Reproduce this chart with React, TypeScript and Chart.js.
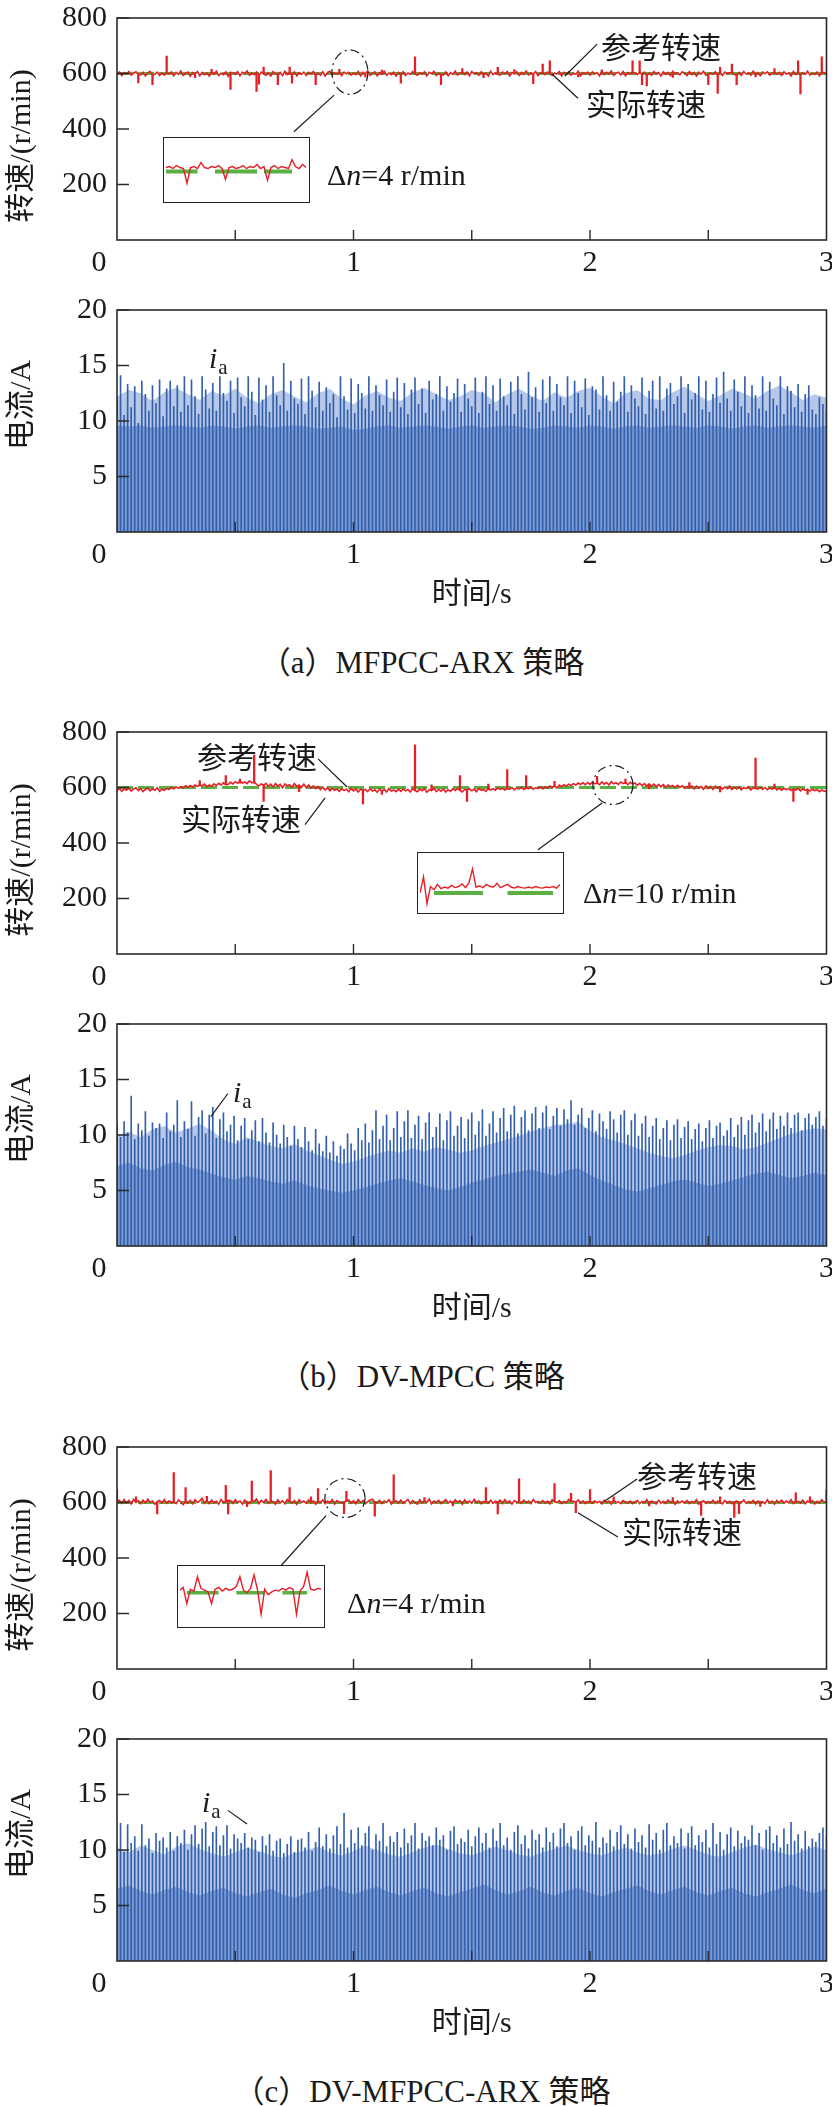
import React, { useEffect, useRef } from "react";
import { Chart, registerables } from "chart.js";
Chart.register(...registerables);

const SERIF = '"Liberation Serif", "Times New Roman", "Noto Sans CJK SC", serif';
const RED = "#e41f26";
const GREEN = "#5bb043";
const BLUE_DARK = "#3360ad";
const BLUE_MID = "#7b9ad3";
const BLUE_LIGHT = "#b6c7e7";
const INK = "#1a1a1a";

// ---------------- data ----------------
const timeLabels = [0, 1, 2, 3];
const minorTimeTicks = [0.5, 1, 1.5, 2, 2.5];
const speedTicks = [200, 400, 600, 800];
const currentTicks = [5, 10, 15, 20];

const speedRef = [600, 600];

// (a) MFPCC-ARX actual speed ripple, 0..3 s, 0.01 s step
const speedA = [
  596,605,592,603,598,607,594,601,606,597,595,604,591,602,608,595,597,605,593,602,
  594,603,599,606,592,604,597,609,593,601,605,590,603,598,607,592,604,596,602,591,
  605,597,608,593,601,596,606,590,604,603,597,607,592,604,599,609,594,602,596,605,
  593,605,598,594,603,591,607,598,596,604,593,608,596,602,594,606,592,603,597,605,
  593,604,598,607,595,601,594,606,591,603,608,595,602,597,603,592,605,599,604,594,
  602,596,607,591,604,599,609,593,601,606,592,603,597,608,594,602,596,605,591,604,
  597,606,593,602,597,607,599,594,603,598,606,591,604,599,608,593,601,596,595,606,
  592,603,597,608,594,601,605,596,605,592,607,599,603,594,606,597,602,591,608,596,
  603,597,594,605,599,607,592,603,598,606,593,604,597,609,595,602,598,607,593,601,
  604,596,605,599,593,602,598,607,591,604,599,606,594,601,597,608,592,603,598,605,
  594,606,599,603,592,607,596,604,598,609,593,601,605,595,607,592,603,598,605,601,
  596,604,597,605,593,602,594,607,598,603,591,606,597,604,593,608,599,602,595,606,
  600,593,607,596,604,591,605,598,608,594,597,602,597,606,593,604,593,605,599,603,
  604,596,595,604,593,607,598,602,594,608,597,603,592,605,599,606,594,601,604,597,
  604,593,606,598,602,591,607,596,602,596,603,597,608,594,601,596,605,592,604,603,
  598,
];
// (a) speed spikes: [time s, from r/min, to r/min]
const spikesA = [
  [0.09,598,566],[0.15,598,560],[0.21,600,663],[0.33,598,585],[0.40,602,615],[0.48,598,543],
  [0.59,598,535],[0.60,598,562],[0.62,600,623],[0.68,598,560],[0.73,600,623],[0.74,598,565],
  [0.84,598,560],[0.94,600,615],[1.05,598,588],[1.12,602,612],[1.20,598,565],[1.26,600,660],
  [1.37,598,560],[1.46,600,618],[1.55,598,585],[1.61,600,622],[1.68,602,614],[1.76,598,563],
  [1.80,600,634],[1.83,600,646],[1.95,598,588],[2.05,602,613],[2.18,600,646],[2.21,600,646],
  [2.22,598,560],[2.24,598,555],[2.35,598,586],[2.50,598,560],[2.54,598,528],[2.55,600,622],
  [2.60,600,634],[2.62,598,560],[2.70,598,588],[2.78,600,618],[2.88,600,646],[2.89,598,526],
  [2.98,600,660],
];

// (b) DV-MPCC actual speed ripple
const speedB = [
  588,597,586,595,590,598,587,594,599,589,596,585,593,598,588,595,590,599,586,594,
  590,597,593,600,595,602,597,604,598,606,601,607,602,609,604,610,606,612,603,609,
  604,613,607,615,609,617,610,611,619,613,621,615,623,616,620,614,624,617,620,611,
  606,613,608,615,604,612,602,614,605,611,599,613,606,610,601,614,604,609,600,612,
  600,609,598,606,596,604,593,601,591,599,588,597,590,595,586,596,589,594,585,597,
  588,595,584,594,590,593,585,596,587,592,583,595,586,593,584,596,587,591,585,594,
  586,595,588,593,584,596,589,585,594,588,596,583,592,589,597,585,593,587,595,584,
  592,586,595,589,597,590,584,593,591,596,588,594,585,597,590,593,586,598,591,596,
  590,599,593,597,591,596,594,600,592,598,595,601,593,598,596,602,594,599,597,603,
  595,603,597,605,600,607,598,609,603,610,605,612,607,614,609,616,611,617,610,618,
  611,619,613,616,610,620,612,618,609,621,613,617,611,620,614,618,610,619,612,616,
  608,615,607,614,605,613,604,612,603,611,602,610,601,609,603,607,600,608,601,606,
  597,604,598,606,595,605,597,603,594,606,596,604,593,605,597,603,594,602,596,605,
  593,601,595,602,592,600,596,603,591,599,597,594,601,593,600,592,599,594,601,591,
  598,590,597,592,596,589,594,591,597,588,595,590,594,587,593,589,592,585,591,587,
  586,
];
const spikesB = [
  [0.35,606,625],[0.46,610,643],[0.52,616,630],[0.58,616,717],[0.62,610,550],[0.77,606,585],
  [1.04,590,541],[1.12,590,575],[1.26,590,754],[1.33,590,610],[1.45,590,643],[1.48,590,550],
  [1.57,592,612],[1.65,596,665],[1.73,598,643],[1.85,602,622],[2.03,614,640],[2.15,614,630],
  [2.25,610,595],[2.42,602,618],[2.55,600,584],[2.70,597,706],[2.78,597,612],[2.86,592,550],
  [2.92,590,575],
];

// (c) DV-MFPCC-ARX actual speed ripple
const speedC = [
  604,608,597,610,599,607,595,611,600,606,596,609,598,612,601,605,594,603,607,598,
  610,597,606,599,603,596,609,601,593,604,598,607,595,610,600,606,615,597,608,596,
  609,598,605,594,611,600,603,608,607,597,610,599,605,594,609,601,596,606,604,612,
  596,608,600,611,597,604,603,594,609,599,606,595,611,603,598,607,593,610,600,605,
  597,609,599,606,594,603,601,610,596,605,599,611,594,607,601,598,602,606,609,597,
  606,595,610,600,607,596,603,609,612,601,598,608,596,605,600,610,594,603,606,598,
  609,597,604,611,596,607,600,594,610,598,606,600,612,595,605,599,608,596,603,610,
  598,605,596,610,601,607,594,609,599,605,597,611,600,606,595,604,602,598,608,597,
  605,601,608,596,610,599,606,594,607,601,603,597,609,599,605,596,611,600,604,598,
  607,598,605,595,610,603,600,607,596,604,599,611,602,605,601,609,598,606,596,603,
  602,597,606,599,604,595,608,600,605,594,609,598,603,596,607,601,598,605,596,602,
  607,596,604,599,610,597,605,600,595,608,598,604,596,609,600,603,594,606,599,605,
  598,607,596,604,599,610,594,602,606,597,603,599,608,596,605,600,595,607,598,604,
  596,602,606,599,601,609,597,604,598,608,595,605,600,603,596,610,598,605,594,607,
  600,608,597,605,599,610,596,602,604,598,609,596,605,600,607,595,604,598,610,601,
  603,
];
const spikesC = [
  [0.00,603,646],[0.08,603,620],[0.17,603,559],[0.24,603,708],[0.29,603,654],[0.38,603,622],
  [0.46,603,662],[0.47,603,559],[0.55,603,585],[0.57,603,677],[0.65,603,715],[0.73,603,654],
  [0.82,603,620],[0.85,603,650],[0.96,603,560],[0.97,603,640],[1.09,603,551],[1.17,603,700],
  [1.30,603,618],[1.42,603,588],[1.56,603,654],[1.61,603,559],[1.70,603,685],[1.85,603,668],
  [1.92,603,633],[1.94,603,563],[2.00,603,647],[2.10,603,620],[2.25,603,588],[2.35,603,618],
  [2.47,603,553],[2.55,603,620],[2.61,603,546],[2.63,603,560],[2.72,603,586],[2.87,603,635],
  [2.93,603,620],[3.00,603,646],
];

// current i_a: dark peaks (0..3 s, 0.015 s step) and filled envelopes (0.05 s step)
const peaksA = [
  12.0,14.1,10.5,13.3,11.2,13.1,9.8,13.6,12.4,10.9,13.2,11.6,13.7,10.4,12.9,13.6,11.3,13.2,10.8,14.0,
  11.4,13.7,12.2,10.6,14.0,12.8,11.1,13.4,10.9,14.0,12.5,11.8,13.6,10.7,13.9,12.1,11.3,14.0,12.6,10.5,
  13.9,11.9,13.2,10.8,14.0,12.3,11.4,15.2,10.9,13.6,12.0,11.5,13.8,10.6,14.0,12.7,11.2,13.5,10.9,13.0,
  11.6,12.4,10.3,14.0,12.2,11.0,13.8,10.7,13.3,12.5,11.1,14.0,10.9,13.2,12.3,11.4,13.7,10.8,12.6,13.9,
  11.2,13.4,10.6,12.8,13.9,11.5,12.9,10.7,13.6,11.9,12.4,14.0,10.9,13.1,11.7,12.5,13.8,10.8,13.3,12.0,
  11.3,13.9,10.7,12.6,14.0,11.5,13.2,10.9,13.8,12.2,11.4,13.5,10.6,14.0,12.4,11.0,14.4,12.1,13.0,10.8,
  13.7,11.6,14.0,10.9,13.3,12.1,11.4,14.0,10.7,13.6,12.5,11.2,13.8,10.5,13.1,12.8,11.0,14.0,12.3,10.9,
  13.5,11.7,12.6,14.0,10.8,13.2,12.0,11.3,13.9,10.6,12.7,13.6,11.1,14.0,10.9,12.9,13.4,11.5,12.2,14.0,
  10.7,13.3,11.9,12.5,14.0,11.0,13.6,10.8,12.4,13.9,11.6,14.4,12.0,10.9,13.7,12.6,11.3,14.0,10.7,13.2,
  12.3,11.1,14.0,10.9,13.5,12.0,11.4,14.0,10.6,13.1,12.7,11.2,13.3,10.8,12.4,13.2,11.0,10.6,12.1,11.5,
  11.0,
];
const envHiA = [
  12.2,12.8,12.5,11.8,12.6,13.0,12.4,11.9,12.7,12.3,12.9,12.1,11.6,12.4,12.8,12.2,11.7,12.5,12.9,12.0,
  11.5,12.3,12.7,12.1,11.8,12.6,13.0,12.4,11.9,12.2,12.8,12.5,11.7,12.4,12.9,12.3,11.8,12.6,12.1,12.7,
  13.0,12.2,11.6,12.5,12.8,12.0,11.9,12.6,13.1,12.4,11.8,12.3,12.9,12.5,12.0,12.7,13.2,12.6,11.9,12.4,
  12.1,
];
const envLoA = [
  9.6,9.5,9.6,9.4,9.5,9.6,9.5,9.4,9.6,9.5,9.3,9.5,9.6,9.4,9.5,9.6,9.5,9.3,9.4,9.5,
  9.2,9.3,9.5,9.6,9.4,9.5,9.6,9.5,9.3,9.5,9.6,9.4,9.5,9.6,9.5,9.3,9.4,9.6,9.5,9.4,
  9.6,9.5,9.3,9.5,9.6,9.4,9.5,9.6,9.5,9.4,9.6,9.5,9.3,9.5,9.6,9.4,9.5,9.6,9.5,9.4,
  9.6,
];

const peaksB = [
  11.0,9.8,11.2,10.2,13.5,9.6,11.0,10.4,12.1,9.9,11.1,10.6,11.0,9.7,12.0,10.3,10.9,13.1,9.8,11.2,
  10.5,13.0,9.9,11.6,12.2,10.1,11.8,12.5,9.7,11.4,12.0,10.3,10.9,11.7,9.5,10.8,11.5,9.6,10.4,11.3,
  9.4,11.5,10.2,9.3,11.1,10.0,9.2,10.9,9.8,9.0,10.8,9.6,8.9,10.7,9.4,8.6,10.5,9.2,8.5,9.9,
  8.4,9.4,8.1,9.0,8.7,10.1,9.2,8.6,10.6,9.5,11.0,9.3,10.4,12.2,9.6,10.8,11.8,9.5,10.6,12.1,
  9.8,11.2,12.2,9.7,10.9,11.7,9.6,11.1,12.0,9.8,10.7,11.9,9.5,11.3,12.1,9.9,10.8,11.6,9.7,11.4,
  12.0,10.0,11.2,12.3,9.9,11.0,12.1,10.2,11.5,12.4,10.3,11.8,12.6,10.1,11.6,12.2,10.4,11.9,12.5,10.6,
  12.0,12.6,10.5,11.7,12.4,10.8,12.3,11.4,13.1,10.9,11.8,12.4,10.6,11.5,12.2,10.3,11.9,11.2,10.5,12.1,
  11.4,10.2,11.8,12.2,10.0,11.3,11.9,9.9,11.0,11.7,9.8,10.8,11.5,9.6,10.6,11.3,9.5,10.9,11.4,9.7,
  10.7,11.2,9.6,10.5,11.0,9.4,10.6,11.3,9.7,10.8,11.1,9.9,10.4,11.5,9.8,10.9,11.6,10.0,11.3,11.8,
  10.2,11.1,11.9,10.3,11.4,12.0,10.5,11.7,10.8,12.0,10.6,11.8,12.0,10.4,11.5,11.9,10.9,11.6,12.1,10.8,
  11.5,
];
const envHiB = [
  10.0,10.3,9.8,10.5,10.8,10.2,10.6,11.0,10.4,9.6,9.2,9.8,9.4,9.0,8.8,9.2,8.6,8.2,7.8,7.4,
  7.6,8.0,8.3,8.6,8.4,8.8,8.5,8.9,8.7,8.4,8.6,9.0,9.3,9.6,9.9,10.3,10.6,10.9,11.0,11.2,
  10.4,9.8,9.5,9.2,8.8,8.4,8.1,7.9,8.2,8.6,8.9,9.1,9.0,8.7,8.9,9.3,9.7,10.1,10.4,10.6,
  10.5,
];
const envLoB = [
  7.2,7.5,7.0,6.8,7.3,7.6,7.1,6.9,6.5,6.2,6.0,6.3,6.1,5.8,5.6,5.9,5.5,5.2,5.0,4.8,
  5.0,5.3,5.6,5.9,6.1,5.8,5.5,5.2,5.0,5.3,5.7,6.0,6.3,6.5,6.7,6.9,6.6,6.3,6.8,7.0,
  6.4,5.9,5.5,5.1,4.9,5.2,5.5,5.8,6.0,5.7,5.4,5.6,5.9,6.2,6.5,6.7,6.4,6.1,6.3,6.6,
  6.4,
];

const peaksC = [
  10.3,12.4,9.8,12.3,10.6,11.2,9.9,12.3,10.4,11.0,9.7,11.5,10.8,11.1,10.2,11.6,9.9,11.2,10.6,11.8,
  10.0,11.4,12.2,10.5,11.9,12.5,10.3,11.6,12.1,10.4,11.3,12.2,10.1,11.4,11.0,10.6,11.5,10.2,11.1,10.9,
  9.8,11.2,10.4,11.4,9.9,10.8,11.0,9.7,10.5,11.2,9.8,10.9,11.0,10.2,11.6,9.9,10.7,12.0,10.3,11.4,
  10.1,11.3,12.1,10.5,13.3,10.2,11.8,10.6,12.0,10.4,11.5,12.1,10.0,11.4,10.8,12.4,10.3,11.2,10.7,11.6,
  10.2,11.9,10.6,11.3,12.4,10.1,11.5,10.8,11.2,10.4,12.0,10.9,11.3,10.0,11.7,12.1,10.5,11.0,10.7,11.8,
  10.3,11.2,12.0,10.6,11.5,10.2,11.9,10.8,12.4,10.4,11.1,10.0,11.6,12.2,10.5,11.3,10.1,11.8,10.9,11.4,
  10.2,12.0,10.7,11.5,10.3,11.9,12.4,10.6,11.2,10.0,11.7,12.1,10.4,11.3,10.8,12.5,10.2,11.1,10.6,11.8,
  10.3,11.6,12.2,10.5,11.4,10.1,11.9,10.7,11.3,10.2,12.3,10.9,11.5,10.0,11.8,12.4,10.4,11.2,10.6,11.9,
  10.1,11.5,12.1,10.4,11.3,10.7,11.8,10.2,12.4,10.5,11.6,10.0,11.4,12.0,10.3,11.7,10.6,11.2,10.9,12.2,
  10.4,11.5,10.0,11.8,12.1,10.6,11.3,10.2,11.9,10.5,12.5,10.8,11.4,10.1,11.7,10.3,11.0,10.7,11.5,12.0,
  11.2,
];
const envHiC = [
  10.2,9.8,10.4,10.0,9.6,10.3,10.6,10.1,9.7,9.4,9.8,10.2,9.9,9.5,9.3,9.7,10.0,10.3,9.8,9.5,
  9.9,10.4,10.0,9.6,9.4,9.8,10.2,10.5,10.1,9.7,9.5,9.9,10.3,10.0,9.6,9.4,9.8,10.1,10.4,10.0,
  9.7,9.5,9.9,10.2,9.8,9.5,9.7,10.1,10.4,10.0,9.6,9.4,9.8,10.2,10.5,10.1,9.8,9.5,9.9,10.3,
  10.0,
];
const envLoC = [
  6.5,6.8,6.3,6.0,6.4,6.7,6.2,5.9,6.3,6.6,6.1,5.8,6.2,6.5,6.0,5.7,6.1,6.4,6.8,6.3,
  6.0,6.4,6.7,6.2,5.9,6.3,6.6,6.1,5.8,6.2,6.5,6.9,6.4,6.0,6.3,6.7,6.2,5.9,6.3,6.6,
  6.1,5.8,6.2,6.5,6.8,6.3,6.0,6.4,6.7,6.2,5.9,6.3,6.6,6.1,5.8,6.2,6.5,6.9,6.4,6.1,
  6.5,
];

// zoomed insets (speed detail, r/min)
const insetRedA = [604,605,603,606,604,603,588,604,605,603,609,604,603,605,604,606,603,592,604,605,603,604,606,603,605,604,607,603,605,591,604,606,603,605,604,603,612,605,603,607,604];
const insetRefA = [600,600,600,600,600,600,600,600,600,600,null,null,null,null,600,600,600,600,600,600,600,600,600,600,600,600,600,null,600,600,600,600,600,600,600,600,600,null,null,null,null];
const insetRedB = [600,630,580,612,606,616,608,611,609,614,610,612,617,610,619,645,611,613,610,616,612,611,618,610,613,616,611,609,612,610,609,611,609,612,610,609,611,610,612,609,616];
const insetRefB = [null,null,null,null,600,600,600,600,600,600,600,600,600,600,600,600,600,600,600,null,null,null,null,null,null,600,600,600,600,600,600,600,600,600,600,600,600,600,600,null,null];
const insetRedC = [603,606,588,604,602,618,605,603,601,588,604,606,602,605,603,604,607,618,603,600,605,620,603,576,604,598,601,603,602,605,603,606,604,576,602,607,623,604,603,605,604];
const insetRefC = [null,null,600,600,600,600,600,600,600,600,600,600,null,null,null,null,600,600,600,600,600,600,600,600,600,null,null,null,null,600,600,600,600,600,600,600,600,null,null,null,null];

// ---------------- helpers ----------------
const series = (values: (number | null)[], span: number) =>
  values.map((y, i) => ({ x: (i * span) / (values.length - 1), y }));
const spikeBars = (list: number[][]) => list.map(([t, from, to]) => ({ x: t, y: [from, to] }));

type Annot =
  | { kind: "text"; x: number; y: number; text: string }
  | { kind: "line"; x1: number; y1: number; x2: number; y2: number }
  | { kind: "ellipse"; x: number; y: number; rx: number; ry: number }
  | { kind: "delta"; x: number; y: number; value: string }
  | { kind: "ia"; x: number; y: number };

function framePlugin(o: {
  yTicks: number[];
  yTitle: string;
  titleShift: number;
  xTitle: boolean;
  annots: Annot[];
}) {
  return {
    id: "frame",
    afterDraw(chart: any) {
      const { ctx, chartArea: a } = chart;
      const xs = chart.scales.x;
      const ys = chart.scales.y;
      ctx.save();
      ctx.strokeStyle = "#2b2b2b";
      ctx.lineWidth = 1.6;
      ctx.setLineDash([]);
      ctx.strokeRect(a.left, a.top, a.right - a.left, a.bottom - a.top);
      ctx.lineWidth = 1.4;
      ctx.beginPath();
      for (const v of minorTimeTicks) {
        const px = xs.getPixelForValue(v);
        ctx.moveTo(px, a.bottom);
        ctx.lineTo(px, a.bottom - 10);
      }
      for (const v of o.yTicks) {
        const py = ys.getPixelForValue(v);
        ctx.moveTo(a.left, py);
        ctx.lineTo(a.left + 12, py);
      }
      ctx.stroke();

      ctx.fillStyle = INK;
      ctx.font = `30px ${SERIF}`;
      ctx.textAlign = "center";
      ctx.textBaseline = "middle";
      for (const v of timeLabels) {
        const px = v === 0 ? a.left - 18 : xs.getPixelForValue(v);
        ctx.fillText(String(v), px, a.bottom + 23);
      }
      if (o.xTitle) {
        ctx.fillText("时间/s", (a.left + a.right) / 2, a.bottom + 63);
      }
      ctx.save();
      ctx.translate(22, (a.top + a.bottom) / 2 + o.titleShift);
      ctx.rotate(-Math.PI / 2);
      ctx.fillText(o.yTitle, 0, 0);
      ctx.restore();

      ctx.strokeStyle = INK;
      ctx.lineWidth = 1.2;
      for (const an of o.annots) {
        if (an.kind === "text") {
          ctx.font = `30px ${SERIF}`;
          ctx.textAlign = "center";
          ctx.textBaseline = "middle";
          ctx.fillText(an.text, xs.getPixelForValue(an.x), ys.getPixelForValue(an.y));
        } else if (an.kind === "line") {
          ctx.setLineDash([]);
          ctx.beginPath();
          ctx.moveTo(xs.getPixelForValue(an.x1), ys.getPixelForValue(an.y1));
          ctx.lineTo(xs.getPixelForValue(an.x2), ys.getPixelForValue(an.y2));
          ctx.stroke();
        } else if (an.kind === "ellipse") {
          const cx = xs.getPixelForValue(an.x);
          const cy = ys.getPixelForValue(an.y);
          const rx = Math.abs(xs.getPixelForValue(an.x + an.rx) - cx);
          const ry = Math.abs(ys.getPixelForValue(an.y + an.ry) - cy);
          ctx.setLineDash([9, 4, 2, 4]);
          ctx.beginPath();
          ctx.ellipse(cx, cy, rx, ry, 0, 0, Math.PI * 2);
          ctx.stroke();
          ctx.setLineDash([]);
        } else if (an.kind === "delta") {
          let px = xs.getPixelForValue(an.x);
          const py = ys.getPixelForValue(an.y);
          ctx.textAlign = "left";
          ctx.textBaseline = "middle";
          ctx.font = `30px ${SERIF}`;
          ctx.fillText("Δ", px, py);
          px += ctx.measureText("Δ").width;
          ctx.font = `italic 30px ${SERIF}`;
          ctx.fillText("n", px, py);
          px += ctx.measureText("n").width;
          ctx.font = `30px ${SERIF}`;
          ctx.fillText(`=${an.value} r/min`, px, py);
        } else if (an.kind === "ia") {
          const px = xs.getPixelForValue(an.x);
          const py = ys.getPixelForValue(an.y);
          ctx.textAlign = "left";
          ctx.textBaseline = "alphabetic";
          ctx.font = `italic 30px ${SERIF}`;
          ctx.fillText("i", px, py);
          const w = ctx.measureText("i").width;
          ctx.font = `21px ${SERIF}`;
          ctx.fillText("a", px + w + 1, py + 6);
        }
      }
      ctx.restore();
    },
  };
}

function baseOptions(yMax: number, yStep: number, padBottom: number) {
  return {
    responsive: false,
    animation: false,
    events: [],
    layout: { padding: { top: 20, right: 5.5, bottom: padBottom, left: 0 } },
    plugins: { legend: { display: false }, tooltip: { enabled: false } },
    scales: {
      x: { type: "linear", min: 0, max: 3, offset: false, display: false },
      y: {
        type: "linear",
        min: 0,
        max: yMax,
        offset: false,
        grid: { display: false, drawTicks: false },
        border: { display: false },
        ticks: {
          stepSize: yStep,
          padding: 10,
          color: INK,
          font: { family: SERIF, size: 30 },
          callback: (v: any) => (v === 0 ? "" : String(v)),
        },
        afterFit: (s: any) => {
          s.width = 117;
        },
      },
    },
  };
}

function speedConfig(ripple: number[], spikes: number[][], annots: Annot[]) {
  return {
    type: "line",
    data: {
      datasets: [
        { type: "bar", data: spikeBars(spikes), backgroundColor: RED, barThickness: 1.6, order: 0 },
        { data: series(ripple, 3), borderColor: RED, borderWidth: 1.6, pointRadius: 0, tension: 0, order: 1 },
        { data: series(speedRef, 3), borderColor: GREEN, borderWidth: 3, borderDash: [16, 5], pointRadius: 0, order: 2 },
      ],
    },
    options: baseOptions(800, 200, 42),
    plugins: [framePlugin({ yTicks: speedTicks, yTitle: "转速/(r/min)", titleShift: 17, xTitle: false, annots })],
  };
}

function currentConfig(peaks: number[], hi: number[], lo: number[], annots: Annot[]) {
  return {
    type: "line",
    data: {
      datasets: [
        { type: "bar", data: series(peaks, 3), backgroundColor: BLUE_DARK, barThickness: 1, order: 0 },
        { data: series(lo, 3), borderWidth: 0, borderColor: BLUE_MID, backgroundColor: BLUE_MID, fill: "origin", pointRadius: 0, tension: 0, order: 1 },
        { data: series(hi, 3), borderWidth: 0, borderColor: BLUE_LIGHT, backgroundColor: BLUE_LIGHT, fill: "origin", pointRadius: 0, tension: 0, order: 2 },
      ],
    },
    options: baseOptions(20, 5, 80),
    plugins: [framePlugin({ yTicks: currentTicks, yTitle: "电流/A", titleShift: -16, xTitle: true, annots })],
  };
}

function insetConfig(red: number[], ref: (number | null)[], yMin: number, yMax: number, refWidth: number) {
  return {
    type: "line",
    data: {
      datasets: [
        { data: series(red, red.length - 1), borderColor: RED, borderWidth: 1.4, pointRadius: 0, tension: 0, order: 0 },
        { data: series(ref, ref.length - 1), borderColor: GREEN, borderWidth: refWidth, pointRadius: 0, spanGaps: false, order: 1 },
      ],
    },
    options: {
      responsive: false,
      animation: false,
      events: [],
      layout: { padding: 0 },
      plugins: { legend: { display: false }, tooltip: { enabled: false } },
      scales: {
        x: { type: "linear", min: 0, max: red.length - 1, display: false },
        y: { type: "linear", min: yMin, max: yMax, display: false },
      },
    },
  };
}

function ChartCanvas(props: { make: () => any; left: number; top: number; width: number; height: number }) {
  const ref = useRef<HTMLCanvasElement>(null);
  useEffect(() => {
    let dead = false;
    const chart = new Chart(ref.current as HTMLCanvasElement, props.make());
    const fonts: any = (document as any).fonts;
    if (fonts && fonts.load) {
      Promise.all([
        fonts.load('30px "Liberation Serif"', "0123456789Δnr/min"),
        fonts.load('italic 30px "Liberation Serif"', "in"),
        fonts.load('30px "Noto Sans CJK SC"', "转速电流时间参考实际"),
      ])
        .then(() => {
          if (!dead) chart.update();
        })
        .catch(() => {});
    }
    return () => {
      dead = true;
      chart.destroy();
    };
  }, []);
  return (
    <canvas
      ref={ref}
      width={props.width}
      height={props.height}
      style={{ position: "absolute", left: props.left, top: props.top, width: props.width, height: props.height }}
    />
  );
}

function Inset(props: { left: number; top: number; width: number; height: number; make: () => any }) {
  return (
    <div
      style={{
        position: "absolute",
        left: props.left,
        top: props.top,
        width: props.width,
        height: props.height,
        border: "1.5px solid #222",
        boxSizing: "border-box",
        background: "#fff",
      }}
    >
      <ChartCanvas make={props.make} left={0} top={0} width={props.width - 3} height={props.height - 3} />
    </div>
  );
}

// ---------------- panels ----------------
const annSpeedA: Annot[] = [
  { kind: "text", x: 2.3, y: 685, text: "参考转速" },
  { kind: "line", x1: 2.03, y1: 706, x2: 1.894, y2: 591 },
  { kind: "text", x: 2.237, y: 480, text: "实际转速" },
  { kind: "line", x1: 1.949, y1: 511, x2: 1.839, y2: 598 },
  { kind: "ellipse", x: 0.985, y: 605, rx: 0.076, ry: 80 },
  { kind: "line", x1: 0.918, y1: 522, x2: 0.748, y2: 390 },
  { kind: "delta", x: 0.888, y: 226, value: "4" },
];
const annSpeedB: Annot[] = [
  { kind: "text", x: 0.592, y: 699, text: "参考转速" },
  { kind: "line", x1: 0.85, y1: 703, x2: 0.973, y2: 602 },
  { kind: "text", x: 0.524, y: 476, text: "实际转速" },
  { kind: "line", x1: 0.795, y1: 466, x2: 0.88, y2: 563 },
  { kind: "ellipse", x: 2.097, y: 609, rx: 0.085, ry: 70 },
  { kind: "line", x1: 2.051, y1: 544, x2: 1.78, y2: 376 },
  { kind: "delta", x: 1.97, y: 212, value: "10" },
];
const annSpeedC: Annot[] = [
  { kind: "text", x: 2.452, y: 685, text: "参考转速" },
  { kind: "line", x1: 2.199, y1: 685, x2: 2.063, y2: 605 },
  { kind: "text", x: 2.389, y: 483, text: "实际转速" },
  { kind: "line", x1: 2.118, y1: 476, x2: 1.949, y2: 563 },
  { kind: "ellipse", x: 0.964, y: 616, rx: 0.085, ry: 70 },
  { kind: "line", x1: 0.884, y1: 553, x2: 0.693, y2: 372 },
  { kind: "delta", x: 0.973, y: 230, value: "4" },
];
const annCurA: Annot[] = [{ kind: "ia", x: 0.389, y: 14.8 }];
const annCurB: Annot[] = [
  { kind: "ia", x: 0.49, y: 12.96 },
  { kind: "line", x1: 0.469, y1: 13.74, x2: 0.397, y2: 11.66 },
];
const annCurC: Annot[] = [
  { kind: "ia", x: 0.359, y: 13.4 },
  { kind: "line", x1: 0.469, y1: 13.57, x2: 0.55, y2: 12.35 },
];

function Group(props: {
  T: number;
  speed: number[];
  spikes: number[][];
  peaks: number[];
  hi: number[];
  lo: number[];
  annSpeed: Annot[];
  annCur: Annot[];
  caption: string;
}) {
  const { T } = props;
  return (
    <>
      <ChartCanvas make={() => speedConfig(props.speed, props.spikes, props.annSpeed)} left={0} top={T - 20} width={832} height={292} />
      <ChartCanvas
        make={() => currentConfig(props.peaks, props.hi, props.lo, props.annCur)}
        left={0}
        top={T + 272}
        width={832}
        height={330}
      />
      <div
        style={{
          position: "absolute",
          left: 122,
          width: 600,
          top: T + 653 - 19,
          height: 38,
          lineHeight: "38px",
          textAlign: "center",
          fontFamily: SERIF,
          fontSize: 31,
          color: INK,
          whiteSpace: "nowrap",
        }}
      >
        {props.caption}
      </div>
    </>
  );
}

export default function App() {
  return (
    <div style={{ position: "absolute", left: 0, top: 0, width: 832, height: 2106, overflow: "hidden", background: "#fff" }}>
      <Group T={10} speed={speedA} spikes={spikesA} peaks={peaksA} hi={envHiA} lo={envLoA} annSpeed={annSpeedA} annCur={annCurA} caption="（a）MFPCC-ARX 策略" />
      <Group T={724} speed={speedB} spikes={spikesB} peaks={peaksB} hi={envHiB} lo={envLoB} annSpeed={annSpeedB} annCur={annCurB} caption="（b）DV-MPCC 策略" />
      <Group T={1439} speed={speedC} spikes={spikesC} peaks={peaksC} hi={envHiC} lo={envLoC} annSpeed={annSpeedC} annCur={annCurC} caption="（c）DV-MFPCC-ARX 策略" />
      <Inset left={163} top={137} width={147} height={66} make={() => insetConfig(insetRedA, insetRefA, 572, 632, 4)} />
      <Inset left={417} top={852} width={147} height={62} make={() => insetConfig(insetRedB, insetRefB, 568, 671, 4)} />
      <Inset left={177} top={1565} width={148} height={63} make={() => insetConfig(insetRedC, insetRefC, 565, 628, 3.5)} />
    </div>
  );
}
